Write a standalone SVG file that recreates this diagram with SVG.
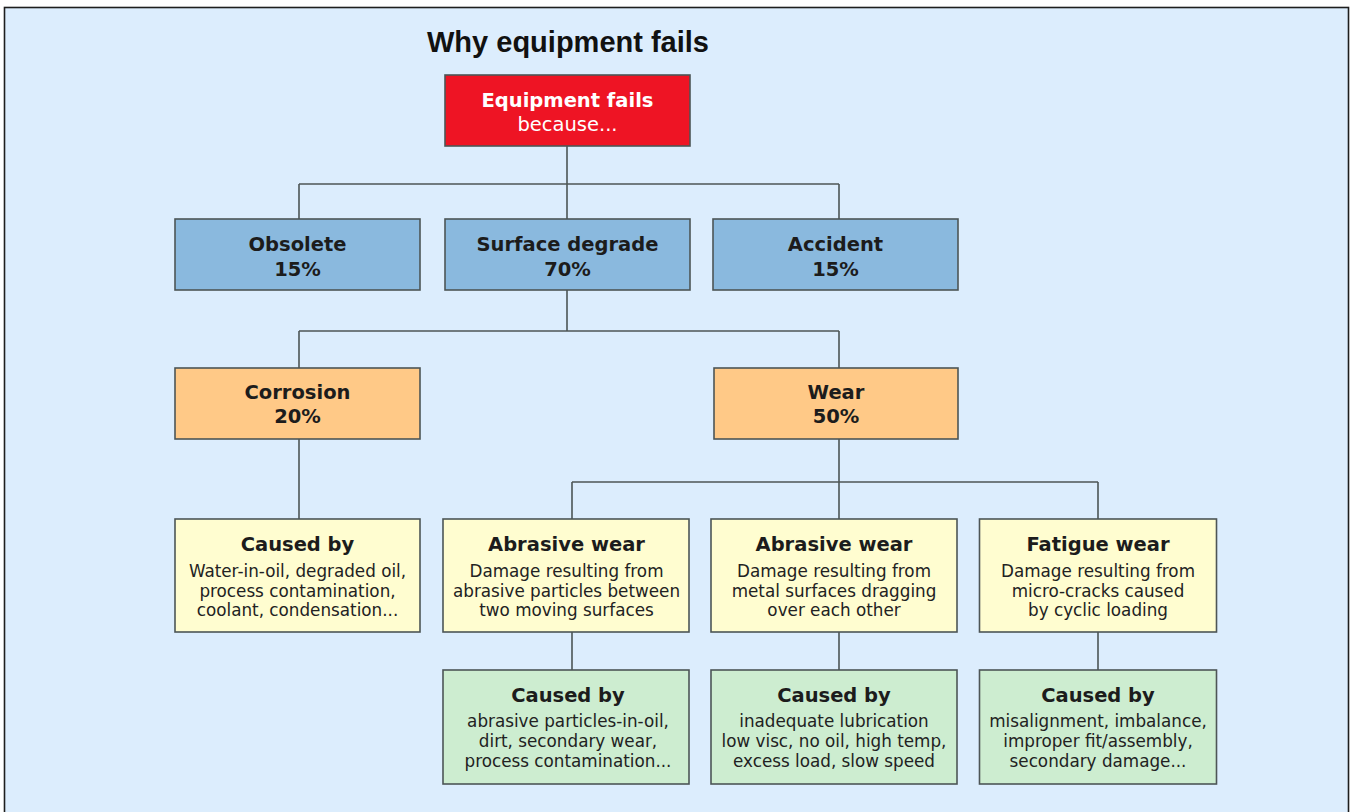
<svg xmlns="http://www.w3.org/2000/svg" width="1351" height="812" viewBox="0 0 1351 812">
<style>
.box{stroke:#4d5556;stroke-width:1.6}
.red{fill:#EE1424}
.blue{fill:#8AB9DE}
.orange{fill:#FFC987}
.yellow{fill:#FFFDD0}
.green{fill:#CDEDD0}
.h{font-family:"DejaVu Sans",sans-serif;font-weight:bold;font-size:19.5px;fill:#1c1c1c;text-anchor:middle}
.b{font-family:"DejaVu Sans",sans-serif;font-size:16.8px;fill:#222;text-anchor:middle}
.w{fill:#fff}
.conn{fill:none;stroke:#4d5556;stroke-width:1.6}
</style>
<rect x="0" y="0" width="1351" height="812" fill="#ffffff"/>
<rect x="4.5" y="7.5" width="1344" height="820" fill="#DCEDFD" stroke="#1e1e1e" stroke-width="1.6"/>
<text x="568" y="52" font-family="Liberation Sans, Arial, sans-serif" font-weight="bold" font-size="29" fill="#111" text-anchor="middle">Why equipment fails</text>
<g id="connectors">
<path class="conn" d="M567,146V184M299,184H839M299,184V219M567,184V219M839,184V219"/>
<path class="conn" d="M567,290V331M299,331H839M299,331V368M839,331V368"/>
<path class="conn" d="M299,439V519"/>
<path class="conn" d="M839,439V482M572,482H1098M572,482V519M839,482V519M1098,482V519"/>
<path class="conn" d="M572,632V670M839,632V670M1098,632V670"/>
</g>
<g id="n-root">
<rect class="box red" x="445" y="75" width="245" height="71"/>
<text class="h w" x="567.5" y="107" style="fill:#fff">Equipment fails</text>
<text class="b" x="567.5" y="131" style="fill:#fff;font-size:19.5px">because...</text>
</g>
<g id="n-obsolete">
<rect class="box blue" x="175" y="219" width="245" height="71"/>
<text class="h" x="297.5" y="251">Obsolete</text>
<text class="h" x="297.5" y="276">15%</text>
</g>
<g id="n-surface">
<rect class="box blue" x="445" y="219" width="245" height="71"/>
<text class="h" x="567.5" y="251">Surface degrade</text>
<text class="h" x="567.5" y="276">70%</text>
</g>
<g id="n-accident">
<rect class="box blue" x="713" y="219" width="245" height="71"/>
<text class="h" x="835.5" y="251">Accident</text>
<text class="h" x="835.5" y="276">15%</text>
</g>
<g id="n-corrosion">
<rect class="box orange" x="175" y="368" width="245" height="71"/>
<text class="h" x="297.5" y="399">Corrosion</text>
<text class="h" x="297.5" y="423">20%</text>
</g>
<g id="n-wear">
<rect class="box orange" x="714" y="368" width="244" height="71"/>
<text class="h" x="836" y="399">Wear</text>
<text class="h" x="836" y="423">50%</text>
</g>
<g id="n-corrosion-cause">
<rect class="box yellow" x="175" y="519" width="245" height="113"/>
<text class="h" x="297.5" y="551">Caused by</text>
<text class="b" x="297.5" y="577">Water-in-oil, degraded oil,</text>
<text class="b" x="297.5" y="596.5">process contamination,</text>
<text class="b" x="297.5" y="616">coolant, condensation...</text>
</g>
<g id="n-abrasive1">
<rect class="box yellow" x="443" y="519" width="246" height="113"/>
<text class="h" x="566.5" y="551">Abrasive wear</text>
<text class="b" x="566.5" y="577">Damage resulting from</text>
<text class="b" x="566.5" y="596.5">abrasive particles between</text>
<text class="b" x="566.5" y="616">two moving surfaces</text>
</g>
<g id="n-abrasive2">
<rect class="box yellow" x="711" y="519" width="246" height="113"/>
<text class="h" x="834" y="551">Abrasive wear</text>
<text class="b" x="834" y="577">Damage resulting from</text>
<text class="b" x="834" y="596.5">metal surfaces dragging</text>
<text class="b" x="834" y="616">over each other</text>
</g>
<g id="n-fatigue">
<rect class="box yellow" x="979.5" y="519" width="237" height="113"/>
<text class="h" x="1098" y="551">Fatigue wear</text>
<text class="b" x="1098" y="577">Damage resulting from</text>
<text class="b" x="1098" y="596.5">micro-cracks caused</text>
<text class="b" x="1098" y="616">by cyclic loading</text>
</g>
<g id="n-abrasive1-cause">
<rect class="box green" x="443" y="670" width="246" height="114"/>
<text class="h" x="568" y="702">Caused by</text>
<text class="b" x="568" y="727">abrasive particles-in-oil,</text>
<text class="b" x="568" y="747">dirt, secondary wear,</text>
<text class="b" x="568" y="767">process contamination...</text>
</g>
<g id="n-abrasive2-cause">
<rect class="box green" x="711" y="670" width="246" height="114"/>
<text class="h" x="834" y="702">Caused by</text>
<text class="b" x="834" y="727">inadequate lubrication</text>
<text class="b" x="834" y="747">low visc, no oil, high temp,</text>
<text class="b" x="834" y="767">excess load, slow speed</text>
</g>
<g id="n-fatigue-cause">
<rect class="box green" x="979.5" y="670" width="237" height="114"/>
<text class="h" x="1098" y="702">Caused by</text>
<text class="b" x="1098" y="727">misalignment, imbalance,</text>
<text class="b" x="1098" y="747">improper fit/assembly,</text>
<text class="b" x="1098" y="767">secondary damage...</text>
</g>
</svg>
